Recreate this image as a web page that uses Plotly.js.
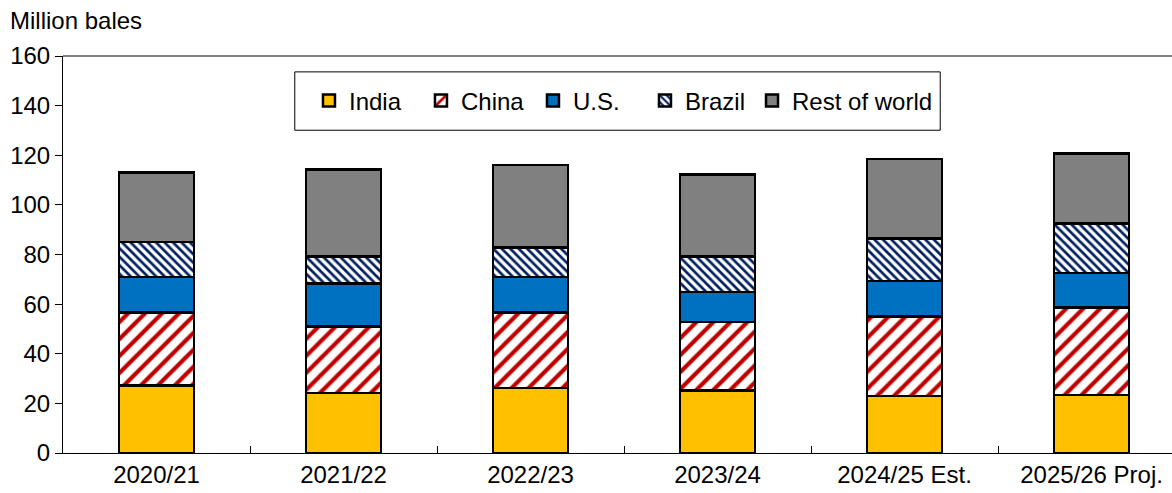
<!DOCTYPE html>
<html>
<head>
<meta charset="utf-8">
<script src="https://cdn.plot.ly/plotly-3.0.1.min.js"></script>
<style>html,body{margin:0;padding:0;background:#fff;}#chart{width:1172px;height:493px;}</style>
</head>
<body>
<div id="chart"></div>
<script>
const categories = ["2020/21", "2021/22", "2022/23", "2023/24", "2024/25 Est.", "2025/26 Proj."];
const india = [27.2, 24.1, 26.1, 25.2, 23.0, 23.3];
const china = [29.4, 26.8, 30.6, 27.5, 32.0, 35.4];
const us = [14.4, 17.5, 14.3, 12.1, 14.4, 13.9];
const brazil = [14.1, 10.7, 11.9, 14.3, 17.1, 19.9];
const restOfWorld = [27.9, 35.1, 33.1, 33.1, 31.9, 28.2];
const yTicks = [0, 20, 40, 60, 80, 100, 120, 140, 160];

const line = {color: "#000000", width: 2.5};
const barWidth = 0.4;
const traces = [
  {name: "India", y: india, legend: "legend", marker: {color: "#FFC000", line: line}},
  {name: "China", y: china, legend: "legend", marker: {color: "#FFFFFF", line: line,
     pattern: {shape: "/", fgcolor: "#C00000", bgcolor: "#FFFFFF", size: 12, solidity: 0.35}}},
  {name: "U.S.", y: us, legend: "legend", marker: {color: "#0070C0", line: line}},
  {name: "Brazil", y: brazil, legend: "legend", marker: {color: "#FFFFFF", line: line,
     pattern: {shape: "\\", fgcolor: "#002060", bgcolor: "#FFFFFF", size: 6, solidity: 0.45}}},
  {name: "Rest of world", y: restOfWorld, legend: "legend2", marker: {color: "#808080", line: line}}
].map(t => Object.assign({type: "bar", x: categories, width: barWidth, hoverinfo: "skip"}, t));

const fs = 24;
const legendBase = {
  orientation: "h",
  y: 0.887, yanchor: "middle",
  bgcolor: "rgba(0,0,0,0)",
  borderwidth: 0,
  font: {size: fs},
  traceorder: "normal",
  itemwidth: 30
};
const layout = {
  width: 1172, height: 493,
  margin: {l: 63, r: 0, t: 56, b: 40},
  barmode: "stack",
  paper_bgcolor: "#FFFFFF", plot_bgcolor: "#FFFFFF",
  font: {family: "Liberation Sans, Arial, sans-serif", size: fs, color: "#000000"},
  xaxis: {
    type: "category",
    range: [-0.5, 5.43],
    showline: true, linecolor: "#000000", linewidth: 1,
    ticks: "inside", tickson: "boundaries", ticklen: 7, tickcolor: "#000000",
    showgrid: false, zeroline: false,
    tickfont: {size: fs}
  },
  yaxis: {
    range: [0, 160],
    tickvals: yTicks,
    showline: true, linecolor: "#000000", linewidth: 1,
    ticks: "outside", ticklen: 7, tickcolor: "#000000",
    showgrid: false, zeroline: false,
    tickfont: {size: fs}
  },
  showlegend: true,
  legend: Object.assign({}, legendBase, {x: 0.2218, xanchor: "left", entrywidth: 67, entrywidthmode: "pixels"}),
  legend2: Object.assign({}, legendBase, {x: 0.6213, xanchor: "left"}),
  shapes: [
    {type: "line", xref: "paper", yref: "paper", x0: 0, x1: 1, y0: 1, y1: 1,
     line: {color: "#808080", width: 2}},
    {type: "rect", xref: "paper", yref: "paper", x0: 0.209, x1: 0.791, y0: 0.813, y1: 0.960,
     line: {color: "#000000", width: 1}, fillcolor: "rgba(255,255,255,1)", layer: "below"}
  ],
  annotations: [
    {text: "Million bales", xref: "paper", yref: "paper", x: -0.050, y: 1.05,
     xanchor: "left", yanchor: "bottom", showarrow: false, font: {size: fs}}
  ]
};

Plotly.newPlot("chart", traces, layout, {displayModeBar: false, staticPlot: true});
</script>
</body>
</html>
